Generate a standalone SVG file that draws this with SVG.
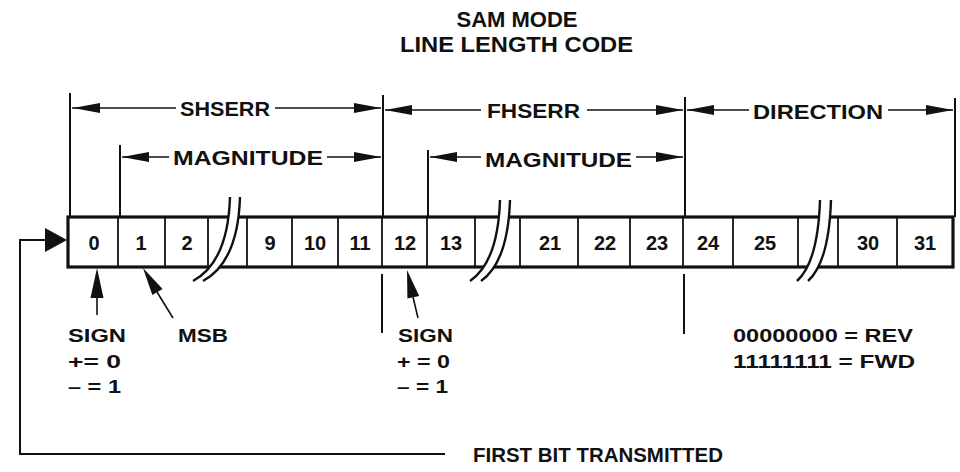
<svg xmlns="http://www.w3.org/2000/svg" width="960" height="472" viewBox="0 0 960 472">
<style>
text{font-family:"Liberation Sans",Arial,sans-serif;font-weight:bold;fill:#111}
.t{font-size:22px}
.h{font-size:21px}
.d{font-size:20px;text-anchor:middle}
.l{font-size:19px}
.ext{stroke:#111;stroke-width:2;fill:none}
.dim{stroke:#111;stroke-width:1.6;fill:none}
.div{stroke:#111;stroke-width:1.8}
.ah{fill:#111}
.brk{stroke:#111;stroke-width:2.4;fill:none}
</style>
<rect width="960" height="472" fill="#fff"/>
<g id="title">
<text class="t" x="517" y="27" text-anchor="middle">SAM MODE</text>
<text class="t" x="400" y="52" textLength="233" lengthAdjust="spacingAndGlyphs">LINE LENGTH CODE</text>
</g>
<g id="register">
<rect x="68" y="217" width="885" height="50" fill="#fff" stroke="#111" stroke-width="3.2"/>
<g class="div">
<line x1="118" y1="217" x2="118" y2="267"/><line x1="165" y1="217" x2="165" y2="267"/>
<line x1="208" y1="217" x2="208" y2="267"/><line x1="247" y1="217" x2="247" y2="267"/>
<line x1="292" y1="217" x2="292" y2="267"/><line x1="338" y1="217" x2="338" y2="267"/>
<line x1="382" y1="217" x2="382" y2="267"/><line x1="427" y1="217" x2="427" y2="267"/>
<line x1="475" y1="217" x2="475" y2="267"/><line x1="520" y1="217" x2="520" y2="267"/>
<line x1="578" y1="217" x2="578" y2="267"/><line x1="630" y1="217" x2="630" y2="267"/>
<line x1="683" y1="217" x2="683" y2="267"/><line x1="733" y1="217" x2="733" y2="267"/>
<line x1="798" y1="217" x2="798" y2="267"/><line x1="838" y1="217" x2="838" y2="267"/>
<line x1="897" y1="217" x2="897" y2="267"/>
</g>
<text class="d" x="94" y="250">0</text><text class="d" x="141" y="250">1</text>
<text class="d" x="187" y="250">2</text><text class="d" x="270" y="250">9</text>
<text class="d" x="315" y="250">10</text><text class="d" x="360" y="250">11</text>
<text class="d" x="405" y="250">12</text><text class="d" x="451" y="250">13</text>
<text class="d" x="550" y="250">21</text><text class="d" x="605" y="250">22</text>
<text class="d" x="657" y="250">23</text><text class="d" x="708" y="250">24</text>
<text class="d" x="765" y="250">25</text><text class="d" x="868" y="250">30</text>
<text class="d" x="925" y="250">31</text>
</g>
<g id="breaks">
<path d="M230 197 Q228 262 193 281 L203 281 Q238 262 240 197 Z" fill="#fff"/>
<path class="brk" d="M230 197 Q228 262 193 281 M240 197 Q238 262 203 281"/>
<path d="M500 200 Q498 262 470 281 L481 281 Q508 262 510 200 Z" fill="#fff"/>
<path class="brk" d="M500 200 Q498 262 470 281 M510 200 Q508 262 481 281"/>
<path d="M820 200 Q818 262 797 281 L808 281 Q829 262 831 200 Z" fill="#fff"/>
<path class="brk" d="M820 200 Q818 262 797 281 M831 200 Q829 262 808 281"/>
</g>
<g id="connectors">
<g class="ext">
<line x1="70" y1="93" x2="70" y2="217"/>
<line x1="383" y1="95" x2="383" y2="217"/>
<line x1="685" y1="97" x2="685" y2="217"/>
<line x1="955" y1="98" x2="955" y2="217"/>
<line x1="120" y1="145" x2="120" y2="217"/>
<line x1="428" y1="150" x2="428" y2="217"/>
<line x1="382" y1="274" x2="382" y2="333"/>
<line x1="684" y1="274" x2="684" y2="334"/>
<polyline points="445,454 20,454 20,240 48,240"/>
</g>
<g class="dim">
<line x1="72" y1="108" x2="176" y2="108"/><line x1="275" y1="108" x2="381" y2="108"/>
<line x1="122" y1="157" x2="169" y2="157"/><line x1="327" y1="157" x2="381" y2="157"/>
<line x1="385" y1="110" x2="481" y2="110"/><line x1="587" y1="110" x2="683" y2="110"/>
<line x1="430" y1="157" x2="481" y2="157"/><line x1="636" y1="157" x2="683" y2="157"/>
<line x1="687" y1="110" x2="749" y2="110"/><line x1="888" y1="110" x2="953" y2="110"/>
<line x1="97" y1="296" x2="97" y2="315"/>
<line x1="157" y1="292" x2="173" y2="318"/>
<line x1="413" y1="297" x2="418" y2="318"/>
</g>
<g class="ah">
<polygon points="73,108 100,103 100,113"/><polygon points="381,108 354,103 354,113"/>
<polygon points="122,157 149,152 149,162"/><polygon points="381,157 354,152 354,162"/>
<polygon points="385,110 412,105 412,115"/><polygon points="683,110 656,105 656,115"/>
<polygon points="430,157 457,152 457,162"/><polygon points="683,157 656,152 656,162"/>
<polygon points="687,110 714,105 714,115"/><polygon points="953,110 926,105 926,115"/>
<polygon points="67,240 45,228 45,252"/>
<polygon points="97,268 90.5,298 103.5,298"/>
<polygon points="143,268 162.6,288.9 152.3,295.1"/>
<polygon points="407,270 419.2,296 407.4,298.6"/>
</g>
</g>
<g id="labels">
<text class="h" x="180" y="116" textLength="90" lengthAdjust="spacingAndGlyphs">SHSERR</text>
<text class="h" x="173" y="165" textLength="150" lengthAdjust="spacingAndGlyphs">MAGNITUDE</text>
<text class="h" x="487" y="118" textLength="93" lengthAdjust="spacingAndGlyphs">FHSERR</text>
<text class="h" x="485" y="167" textLength="147" lengthAdjust="spacingAndGlyphs">MAGNITUDE</text>
<text class="h" x="753" y="119" textLength="130" lengthAdjust="spacingAndGlyphs">DIRECTION</text>
<text class="l" x="68" y="342" textLength="58" lengthAdjust="spacingAndGlyphs">SIGN</text>
<text class="l" x="68" y="368" textLength="53" lengthAdjust="spacingAndGlyphs">+= 0</text>
<text class="l" x="68" y="393" textLength="53" lengthAdjust="spacingAndGlyphs">– = 1</text>
<text class="l" x="178" y="342" textLength="50" lengthAdjust="spacingAndGlyphs">MSB</text>
<text class="l" x="398" y="342" textLength="55" lengthAdjust="spacingAndGlyphs">SIGN</text>
<text class="l" x="397" y="368" textLength="53" lengthAdjust="spacingAndGlyphs">+ = 0</text>
<text class="l" x="397" y="393" textLength="51" lengthAdjust="spacingAndGlyphs">– = 1</text>
<text class="l" x="733" y="342" textLength="180" lengthAdjust="spacingAndGlyphs">00000000 = REV</text>
<text class="l" x="733" y="368" textLength="182" lengthAdjust="spacingAndGlyphs">11111111 = FWD</text>
<text class="h" x="473" y="462" textLength="250" lengthAdjust="spacingAndGlyphs">FIRST BIT TRANSMITTED</text>
</g>
</svg>
